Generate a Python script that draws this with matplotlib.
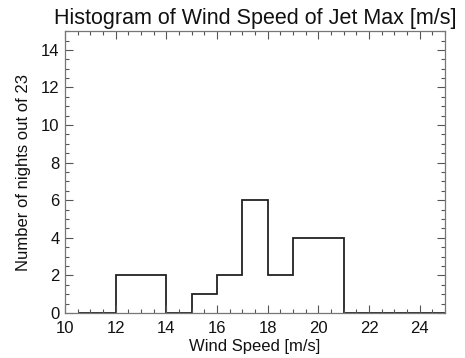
import numpy as np
import matplotlib
matplotlib.use('Agg')
import matplotlib.pyplot as plt
from matplotlib.ticker import MultipleLocator

# histogram data
bin_edges = [10.5, 12, 14, 15, 16, 17, 18, 19, 21, 25]
counts = [0, 2, 0, 1, 2, 6, 2, 4, 0]
x_ticks = [10, 12, 14, 16, 18, 20, 22, 24]
y_ticks = [0, 2, 4, 6, 8, 10, 12, 14]

plt.rcParams['font.family'] = ['Liberation Sans', 'DejaVu Sans']

fig = plt.figure(figsize=(4.65, 3.58), dpi=100)
ax = fig.add_axes([0.140, 0.126, 0.817, 0.787])

ax.stairs(counts, bin_edges, baseline=None, color='#222222', linewidth=1.3)

ax.set_xlim(10, 25)
ax.set_ylim(0, 15)
ax.set_xticks(x_ticks)
ax.set_yticks(y_ticks)
ax.xaxis.set_minor_locator(MultipleLocator(0.5))
ax.yaxis.set_minor_locator(MultipleLocator(0.5))
ax.tick_params(which='both', direction='in', top=True, right=True,
               labelsize=12, colors='#555555', labelcolor='#111111', width=0.8)
ax.tick_params(which='major', length=6, pad=4)
ax.tick_params(which='minor', length=3)
ax.tick_params(axis='x', which='major', pad=6)
for s in ax.spines.values():
    s.set_color('#777777')
    s.set_linewidth(0.9)

ax.set_title('Histogram of Wind Speed of Jet Max [m/s]', fontsize=15.5, pad=5, color='#111111')
ax.set_xlabel('Wind Speed [m/s]', fontsize=12, labelpad=2, color='#111111')
ax.set_ylabel('Number of nights out of 23', fontsize=12, labelpad=7, color='#111111')

fig.savefig('out.png', dpi=100)
